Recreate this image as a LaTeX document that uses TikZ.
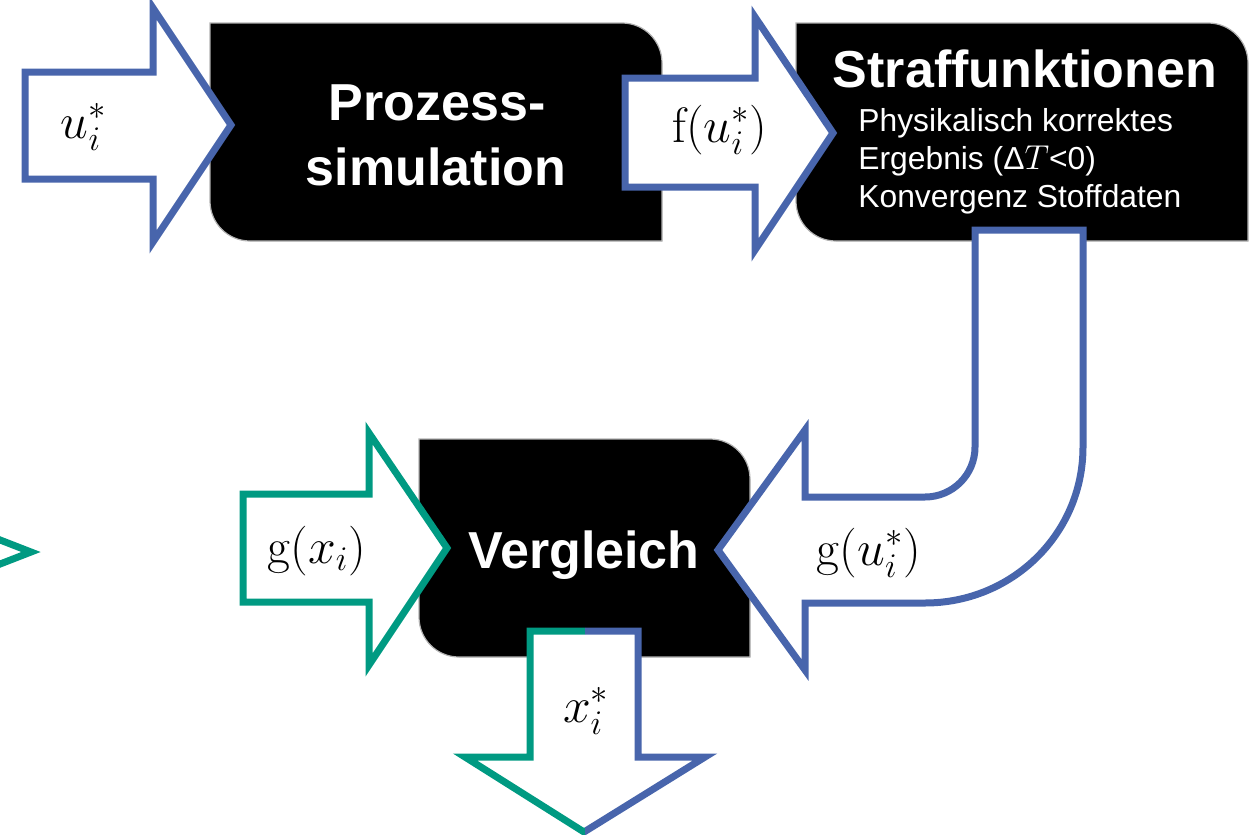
\documentclass[tikz,border=0pt]{standalone}
\usepackage[no-math]{fontspec}
\setmainfont{Liberation Sans}
\definecolor{cblue}{RGB}{72,101,172}
\definecolor{cteal}{RGB}{0,154,130}
\newcommand\rdbox[4]{\path[blk] (#1,#2) -- ({#3-40},#2) to[out=0,in=90] (#3,{#2+40}) -- (#3,#4) -- ({#1+40},#4) to[out=180,in=-90] (#1,{#4-40}) -- cycle;}
\begin{document}
\begin{tikzpicture}[x=0.5pt,y=-0.5pt,
  blk/.style={fill=black,draw=gray!60,line width=0.6pt},
  barrow/.style={fill=white,draw=cblue,line width=3.5pt,line join=miter},
  garrow/.style={fill=white,draw=cteal,line width=3.5pt,line join=miter},
  title/.style={text=white,font=\bfseries\fontsize{26}{31}\selectfont,anchor=base,inner sep=0pt},
  small/.style={text=white,font=\fontsize{15.9}{18}\selectfont,anchor=base west,inner sep=0pt},
  lbl/.style={font=\fontsize{24}{28}\selectfont,anchor=base,inner sep=0pt}]
\useasboundingbox (0,0) rectangle (1258,835);
\clip (0,0) rectangle (1258,835);
% boxes
\rdbox{210}{23}{662}{241}
\rdbox{796}{23}{1248}{241}
\rdbox{419}{439}{750}{657}
% arrows
\path[barrow] (25,72) -- (153,72) -- (153,8) -- (231,125) -- (153,242) -- (153,179) -- (25,179) -- cycle;
\path[barrow] (625,78) -- (755,78) -- (755,17) -- (833,133) -- (755,250) -- (755,187) -- (625,187) -- cycle;
\path[garrow] (243,494) -- (369,494) -- (369,433) -- (447,548) -- (369,665) -- (369,602) -- (243,602) -- cycle;
\path[barrow] (975,230) -- (975,447) to[out=-90,in=0] (925,497) -- (805,497) -- (805,430) -- (718,550) -- (805,670) -- (805,603) -- (925,603) to[out=0,in=-90] (1083,447) -- (1083,230) -- cycle;
% bottom split arrow
\path[fill=white] (530,631) -- (638,631) -- (638,757) -- (705,757) -- (584,832) -- (465,757) -- (530,757) -- cycle;
\begin{scope}
\clip (400,600) rectangle (585,835);
\draw[cteal,line width=3.5pt,line join=miter] (530,631) -- (638,631) -- (638,757) -- (705,757) -- (584,832) -- (465,757) -- (530,757) -- cycle;
\end{scope}
\begin{scope}
\clip (585,600) rectangle (760,835);
\draw[cblue,line width=3.5pt,line join=miter] (530,631) -- (638,631) -- (638,757) -- (705,757) -- (584,832) -- (465,757) -- (530,757) -- cycle;
\end{scope}
% partial arrow at left
\draw[cteal,line width=3.5pt,line join=miter] (-5,538) -- (31,552) -- (-5,566);
% texts
\node[title] (ps1) at (437,120) {Prozess-};
\node[title] (ps2) at (436,185) {simulation};
\node[title] (sf) at (1025,87) {Straffunktionen};
\node[small] (s1) at (858,131) {Physikalisch korrektes};
\node[small] (s2) at (858,169) {Ergebnis (Δ$T$<0)};
\node[small] (s3) at (858,207) {Konvergenz Stoffdaten};
\node[title] (vg) at (584,568) {Vergleich};
\node[lbl] (lu) at (84,138) {$u_i^*$};
\node[lbl] (lf) at (720,142) {$\mathrm{f}(u_i^*)$};
\node[lbl] (lgx) at (317,563) {$\mathrm{g}(x_i)$};
\node[lbl] (lgu) at (869,565) {$\mathrm{g}(u_i^*)$};
\node[lbl] (lx) at (586,722) {$x_i^*$};
\end{tikzpicture}
\end{document}
